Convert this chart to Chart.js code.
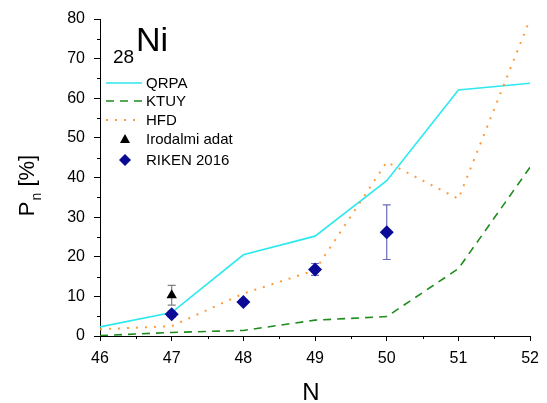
<!DOCTYPE html>
<html>
<head>
<meta charset="utf-8">
<script src="https://cdn.jsdelivr.net/npm/chart.js@4.4.0/dist/chart.umd.min.js"></script>
<style>
html, body { margin: 0; padding: 0; background: #fff; }
#wrap { width: 547px; height: 403px; }
</style>
</head>
<body>
<div id="wrap"><canvas id="chart" width="547" height="403"></canvas></div>
<script>
// neutron number N and P_n [%] values for 28Ni
const neutrons = [46, 47, 48, 49, 50, 51, 52];
const qrpa = [2.3, 5.9, 20.5, 25.2, 39.2, 62.1, 63.8];
const ktuy = [0.1, 0.9, 1.4, 4.0, 4.9, 17.0, 42.6];
const hfd = [1.7, 2.5, 10.7, 16.6, 43.9, 34.6, 80.0];
const litN = [47];
const litVal = [10.3];
const litErr = [2.5];
const rikenN = [47, 48, 49, 50];
const rikenVal = [5.5, 8.6, 16.8, 26.2];
const rikenErr = [0.8, 0.6, 1.5, 6.9];

const FONT = "'Liberation Sans', Arial, sans-serif";

const toPoints = (xs, ys) => xs.map((x, i) => ({ x: x, y: ys[i] }));

const errorBars = {
    id: 'errorBars',
    beforeDatasetsDraw(chart) {
        const ctx = chart.ctx;
        const xs = chart.scales.x, ys = chart.scales.y;
        const sets = [
            { n: litN, v: litVal, e: litErr, color: '#808080' },
            { n: rikenN, v: rikenVal, e: rikenErr, color: '#6b6bbd' }
        ];
        ctx.save();
        ctx.lineWidth = 1.2;
        sets.forEach(s => {
            ctx.strokeStyle = s.color;
            s.n.forEach((n, i) => {
                const px = xs.getPixelForValue(n);
                const top = ys.getPixelForValue(s.v[i] + s.e[i]);
                const bot = ys.getPixelForValue(s.v[i] - s.e[i]);
                ctx.beginPath();
                ctx.moveTo(px, top); ctx.lineTo(px, bot);
                ctx.moveTo(px - 4, top); ctx.lineTo(px + 4, top);
                ctx.moveTo(px - 4, bot); ctx.lineTo(px + 4, bot);
                ctx.stroke();
            });
        });
        ctx.restore();
    }
};

const decorations = {
    id: 'decorations',
    afterDraw(chart) {
        const ctx = chart.ctx;
        const xs = chart.scales.x, ys = chart.scales.y;
        const area = chart.chartArea;
        ctx.save();
        // minor ticks
        ctx.strokeStyle = '#000';
        ctx.lineWidth = 1;
        ctx.beginPath();
        for (let n = 46.5; n < 52; n += 1) {
            const px = Math.round(xs.getPixelForValue(n)) + 0.5;
            ctx.moveTo(px, area.bottom); ctx.lineTo(px, area.bottom + 3);
        }
        for (let v = 5; v < 80; v += 10) {
            const py = Math.round(ys.getPixelForValue(v)) + 0.5;
            ctx.moveTo(area.left, py); ctx.lineTo(area.left - 3, py);
        }
        ctx.stroke();

        ctx.fillStyle = '#000';
        ctx.textBaseline = 'alphabetic';
        // element label
        ctx.font = '19px ' + FONT;
        ctx.fillText('28', 113, 63);
        ctx.font = '34px ' + FONT;
        ctx.fillText('Ni', 136, 51);

        // x axis title
        ctx.font = '24px ' + FONT;
        ctx.textAlign = 'center';
        ctx.fillText('N', 311, 400);

        // y axis title P_n [%]
        ctx.textAlign = 'left';
        ctx.translate(34, 186);
        ctx.rotate(-Math.PI / 2);
        ctx.font = '22px ' + FONT;
        const wP = ctx.measureText('P').width;
        const wRest = ctx.measureText(' [%]').width;
        ctx.font = '14px ' + FONT;
        const wn = ctx.measureText('n').width;
        let x0 = -(wP + wn + wRest) / 2;
        ctx.font = '22px ' + FONT;
        ctx.fillText('P', x0, 0);
        ctx.font = '14px ' + FONT;
        ctx.fillText('n', x0 + wP + 1, 7);
        ctx.font = '22px ' + FONT;
        ctx.fillText(' [%]', x0 + wP + wn + 1, 0);
        ctx.setTransform(1, 0, 0, 1, 0, 0);

        // legend
        const rows = [83, 101, 120, 139, 160];
        ctx.font = '15px ' + FONT;
        ctx.textBaseline = 'middle';
        chart.data.datasets.forEach((ds, i) => {
            const y = rows[i];
            if (ds.showLine) {
                ctx.strokeStyle = ds.borderColor;
                ctx.lineWidth = ds.borderWidth;
                ctx.lineCap = ds.borderCapStyle || 'butt';
                ctx.setLineDash(ds.borderDash || []);
                ctx.beginPath();
                ctx.moveTo(106, y); ctx.lineTo(142, y);
                ctx.stroke();
                ctx.setLineDash([]);
            } else {
                ctx.fillStyle = ds.backgroundColor;
                ctx.beginPath();
                if (ds.pointStyle === 'triangle') {
                    ctx.moveTo(125, y - 5); ctx.lineTo(130, y + 4); ctx.lineTo(120, y + 4);
                } else {
                    ctx.moveTo(125, y - 6); ctx.lineTo(131, y); ctx.lineTo(125, y + 6); ctx.lineTo(119, y);
                }
                ctx.closePath();
                ctx.fill();
            }
            ctx.fillStyle = '#000';
            ctx.fillText(ds.label, 146, y + 1);
        });
        ctx.restore();
    }
};

const ctx = document.getElementById('chart').getContext('2d');
new Chart(ctx, {
    type: 'scatter',
    data: {
        datasets: [
            {
                label: 'QRPA', data: toPoints(neutrons, qrpa), showLine: true,
                borderColor: '#2ce9ef', borderWidth: 1.6, pointRadius: 0, order: 4
            },
            {
                label: 'KTUY', data: toPoints(neutrons, ktuy), showLine: true,
                borderColor: '#1e8c1e', borderWidth: 1.6, borderDash: [8, 6], pointRadius: 0, order: 3
            },
            {
                label: 'HFD', data: toPoints(neutrons, hfd), showLine: true,
                borderColor: '#ff9a3c', borderWidth: 2, borderDash: [2, 7], pointRadius: 0, order: 2
            },
            {
                label: 'Irodalmi adat', data: toPoints(litN, litVal), showLine: false,
                pointStyle: 'triangle', pointRadius: 6, backgroundColor: '#000', borderColor: '#000',
                borderWidth: 0, order: 1
            },
            {
                label: 'RIKEN 2016', data: toPoints(rikenN, rikenVal), showLine: false,
                pointStyle: 'rectRot', pointRadius: 7, backgroundColor: '#0a0a96', borderColor: '#0a0a96',
                borderWidth: 0, order: 0
            }
        ]
    },
    options: {
        responsive: false,
        animation: false,
        devicePixelRatio: 1,
        layout: { padding: { top: 19, right: 15, left: 0, bottom: 0 } },
        plugins: { legend: { display: false }, tooltip: { enabled: false } },
        scales: {
            x: {
                type: 'linear', min: 46, max: 52,
                afterFit: s => { s.height = 67; },
                ticks: { stepSize: 1, color: '#000', padding: 8, font: { family: FONT, size: 16 } },
                grid: { drawOnChartArea: false, drawTicks: true, tickLength: 5, color: '#000' },
                border: { display: true, color: '#000', width: 1 }
            },
            y: {
                min: 0, max: 80,
                afterFit: s => { s.width = 100; },
                ticks: { stepSize: 10, color: '#000', padding: 9, font: { family: FONT, size: 16 } },
                grid: { drawOnChartArea: false, drawTicks: true, tickLength: 6, color: '#000' },
                border: { display: true, color: '#000', width: 1 }
            }
        }
    },
    plugins: [errorBars, decorations]
});
</script>
</body>
</html>
